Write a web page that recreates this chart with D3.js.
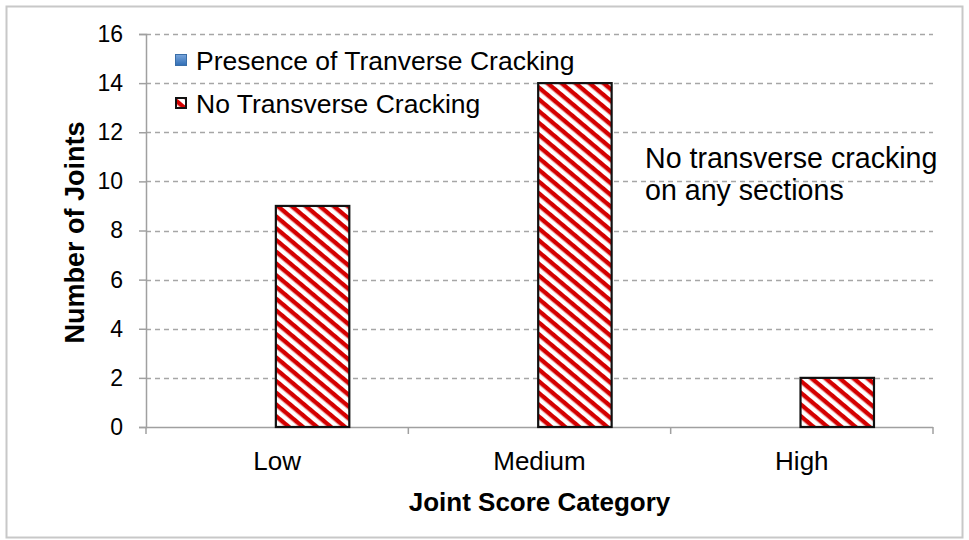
<!DOCTYPE html>
<html>
<head>
<meta charset="utf-8">
<script src="https://cdn.jsdelivr.net/npm/d3@7"></script>
<style>
  html, body { margin: 0; padding: 0; background: #fff; }
  svg { display: block; font-family: "Liberation Sans", Arial, sans-serif; }
</style>
</head>
<body>
<svg id="chart" width="969" height="540"></svg>
<script>
// Joint counts by joint score category
const categories = ["Low", "Medium", "High"];
const seriesNames = ["Presence of Tranverse Cracking", "No Transverse Cracking"];
const presenceValues = [0, 0, 0];
const noCrackingValues = [9, 14, 2];
const yTicks = [0, 2, 4, 6, 8, 10, 12, 14, 16];
const note = ["No transverse cracking", "on any sections"];

const svg = d3.select("#chart");
const W = 969, H = 540;
const margin = { left: 146, right: 36, top: 34, bottom: 113 };
const plotW = W - margin.left - margin.right;
const plotH = H - margin.top - margin.bottom;

// outer frame
svg.append("rect")
  .attr("x", 6.5).attr("y", 6.5).attr("width", W - 13).attr("height", H - 9)
  .attr("fill", "#fff").attr("stroke", "#c8c8c8").attr("stroke-width", 2);

// diagonal hatch fill
const defs = svg.append("defs");
const pat = defs.append("pattern")
  .attr("id", "hatch").attr("patternUnits", "userSpaceOnUse")
  .attr("width", 20).attr("height", 9)
  .attr("patternTransform", "rotate(40)");
pat.append("rect").attr("width", 20).attr("height", 9).attr("fill", "#fff");
pat.append("rect").attr("y", 0).attr("width", 20).attr("height", 4.4).attr("fill", "#d40000");
defs.append("filter").attr("id", "soft")
  .append("feGaussianBlur").attr("stdDeviation", 0.5);

const g = svg.append("g").attr("transform", `translate(${margin.left},${margin.top})`);

const x0 = d3.scaleBand().domain(categories).range([0, plotW]).paddingInner(0).paddingOuter(0);
const x1 = d3.scaleBand().domain(seriesNames).range([x0.bandwidth() * 0.215, x0.bandwidth() * 0.775]);
const y = d3.scaleLinear().domain([0, 16]).range([plotH, 0]);

// dashed gridlines
g.append("g").selectAll("line").data(yTicks.filter(d => d > 0)).join("line")
  .attr("x1", 0).attr("x2", plotW)
  .attr("y1", d => Math.round(y(d)) + 0.5).attr("y2", d => Math.round(y(d)) + 0.5)
  .attr("stroke", "#a6a6a6").attr("stroke-width", 1.3).attr("stroke-dasharray", "5,4");

// y axis
const yAxis = g.append("g").call(d3.axisLeft(y).tickValues(yTicks).tickSize(7).tickPadding(16));
yAxis.select(".domain").attr("stroke", "#a0a0a0").attr("stroke-width", 1.5);
yAxis.selectAll(".tick line").attr("stroke", "#a0a0a0").attr("stroke-width", 1.5);
yAxis.selectAll(".tick text").attr("font-size", 23).attr("fill", "#000")
  .attr("font-family", "Liberation Sans, Arial, sans-serif");

// x axis with ticks at category boundaries
const xAxisG = g.append("g").attr("transform", `translate(0,${plotH})`);
xAxisG.append("line").attr("x1", 0).attr("x2", plotW).attr("y1", 0.5).attr("y2", 0.5)
  .attr("stroke", "#a0a0a0").attr("stroke-width", 1.5);
const bounds = categories.map(c => x0(c)).concat([plotW]);
xAxisG.selectAll("line.tk").data(bounds).join("line").attr("class", "tk")
  .attr("x1", d => d).attr("x2", d => d).attr("y1", 0).attr("y2", 7)
  .attr("stroke", "#a0a0a0").attr("stroke-width", 1.5);
xAxisG.selectAll("text").data(categories).join("text")
  .attr("x", d => x0(d) + x0.bandwidth() / 2).attr("y", 43)
  .attr("text-anchor", "middle").attr("font-size", 26).attr("fill", "#000")
  .text(d => d);

// bars
const groups = g.selectAll("g.cat").data(categories).join("g").attr("class", "cat")
  .attr("transform", d => `translate(${x0(d)},0)`);
groups.append("rect")
  .attr("x", x1(seriesNames[0])).attr("width", x1.bandwidth())
  .attr("y", (d, i) => y(presenceValues[i])).attr("height", (d, i) => plotH - y(presenceValues[i]))
  .attr("fill", "#4f81bd");
groups.append("rect")
  .attr("x", x1(seriesNames[1])).attr("width", x1.bandwidth())
  .attr("y", (d, i) => y(noCrackingValues[i])).attr("height", (d, i) => plotH - y(noCrackingValues[i]))
  .attr("fill", "url(#hatch)").attr("filter", "url(#soft)");
groups.append("rect")
  .attr("x", x1(seriesNames[1])).attr("width", x1.bandwidth())
  .attr("y", (d, i) => y(noCrackingValues[i])).attr("height", (d, i) => plotH - y(noCrackingValues[i]))
  .attr("fill", "none").attr("stroke", "#111").attr("stroke-width", 2.2);

// axis titles
svg.append("text").attr("x", margin.left + plotW / 2).attr("y", 511)
  .attr("text-anchor", "middle").attr("font-size", 26).attr("font-weight", "bold").attr("fill", "#000")
  .text("Joint Score Category");
svg.append("text").attr("transform", `translate(84,${margin.top + plotH / 2 + 2}) rotate(-90)`)
  .attr("text-anchor", "middle").attr("font-size", 27).attr("font-weight", "bold").attr("fill", "#000")
  .text("Number of Joints");

// legend
const legend = svg.append("g").attr("transform", "translate(175,54)");
const grad = defs.append("linearGradient").attr("id", "blueSq").attr("x1", 0).attr("y1", 0).attr("x2", 0).attr("y2", 1);
grad.append("stop").attr("offset", 0).attr("stop-color", "#7aa6dc");
grad.append("stop").attr("offset", 1).attr("stop-color", "#2f6db5");
seriesNames.forEach((name, i) => {
  const row = legend.append("g").attr("transform", `translate(0,${i * 43})`);
  if (i === 0) {
    row.append("rect").attr("x", 0.5).attr("y", 0.5).attr("width", 11).attr("height", 11)
      .attr("fill", "url(#blueSq)").attr("stroke", "#3a6ea8").attr("stroke-width", 1);
  } else {
    row.append("rect").attr("x", 1).attr("y", 1).attr("width", 10).attr("height", 10)
      .attr("fill", "url(#hatch)");
    row.append("rect").attr("x", 1).attr("y", 1).attr("width", 10).attr("height", 10)
      .attr("fill", "none").attr("stroke", "#111").attr("stroke-width", 2);
  }
  row.append("text").attr("x", 21).attr("y", 16).attr("font-size", 26.5).attr("fill", "#000").text(name);
});

// annotation
svg.append("text").attr("x", 645).attr("y", 168).attr("font-size", 28.6).attr("fill", "#000")
  .selectAll("tspan").data(note).join("tspan")
  .attr("x", 645).attr("dy", (d, i) => i === 0 ? 0 : 32).text(d => d);
</script>
</body>
</html>
